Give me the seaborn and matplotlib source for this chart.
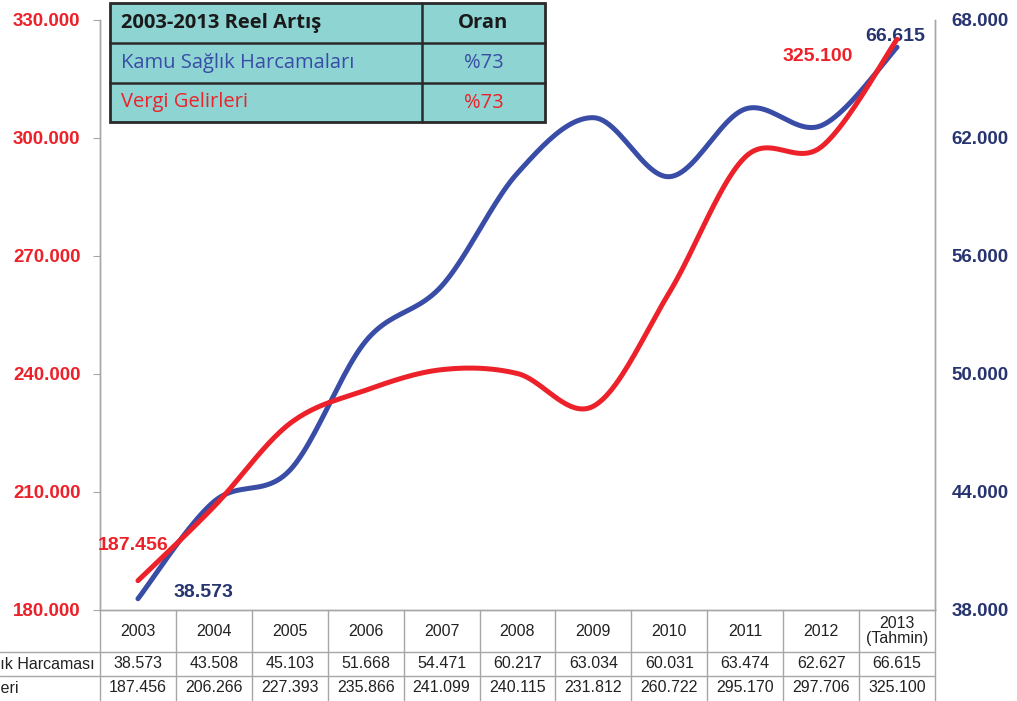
import numpy as np
import pandas as pd
import matplotlib.pyplot as plt
import seaborn as sns
from matplotlib.patches import Rectangle
from matplotlib.lines import Line2D

sns.set_style("white")
plt.rcParams['font.family'] = ['Liberation Sans', 'DejaVu Sans']

# data
years = ["2003", "2004", "2005", "2006", "2007", "2008", "2009", "2010", "2011", "2012", "2013\n(Tahmin)"]
saglik = [38.573, 43.508, 45.103, 51.668, 54.471, 60.217, 63.034, 60.031, 63.474, 62.627, 66.615]
vergi = [187.456, 206.266, 227.393, 235.866, 241.099, 240.115, 231.812, 260.722, 295.170, 297.706, 325.100]
saglik_txt = ["38.573", "43.508", "45.103", "51.668", "54.471", "60.217", "63.034", "60.031", "63.474", "62.627", "66.615"]
vergi_txt = ["187.456", "206.266", "227.393", "235.866", "241.099", "240.115", "231.812", "260.722", "295.170", "297.706", "325.100"]
left_ticks = [180, 210, 240, 270, 300, 330]
right_ticks = [38, 44, 50, 56, 62, 68]

RED = "#EC2129"
BLUE = "#3A4DA6"
NAVY = "#27346F"
GRID = "#A6A6A6"
W, H = 1017, 701


def smooth(y, n=24):
    # Excel-like smoothed line (Catmull-Rom through the points)
    x = np.arange(len(y), dtype=float)
    y = np.asarray(y, dtype=float)
    px = np.concatenate([[x[0]], x, [x[-1]]])
    py = np.concatenate([[y[0]], y, [y[-1]]])
    xs, ys = [], []
    for i in range(1, len(px) - 2):
        p0, p1, p2, p3 = (np.array([px[j], py[j]]) for j in (i - 1, i, i + 1, i + 2))
        c1 = p1 + (p2 - p0) / 6
        c2 = p2 - (p3 - p1) / 6
        t = np.linspace(0, 1, n, endpoint=(i == len(px) - 3))[:, None]
        pts = (1 - t) ** 3 * p1 + 3 * (1 - t) ** 2 * t * c1 + 3 * (1 - t) * t ** 2 * c2 + t ** 3 * p2
        xs.extend(pts[:, 0]); ys.extend(pts[:, 1])
    return pd.DataFrame({"x": xs, "y": ys})


def fx(px):
    return px / W


def fy(py):
    return 1 - py / H


fig = plt.figure(figsize=(W / 100, H / 100), dpi=100)
ax = fig.add_axes([fx(100), fy(610), (935 - 100) / W, (610 - 20) / H])
ax2 = ax.twinx()

s_df = smooth(saglik)
v_df = smooth(vergi)
sns.lineplot(data=s_df, x="x", y="y", ax=ax2, color=BLUE, lw=3.6, sort=False,
             solid_capstyle="round", estimator=None)
sns.lineplot(data=v_df, x="x", y="y", ax=ax, color=RED, lw=3.6, sort=False,
             solid_capstyle="round", estimator=None)
ax.set_zorder(ax2.get_zorder() + 1)
ax.patch.set_visible(False)

ax.set_xlim(-0.5, len(years) - 0.5)
ax.set_ylim(180, 330)
ax2.set_ylim(38, 68)
ax.set_xticks([])
ax2.set_xticks([])
ax.set_xlabel("")
ax.set_ylabel("")
ax2.set_xlabel("")
ax2.set_ylabel("")

ax.set_yticks(left_ticks)
ax.set_yticklabels([f"{v}.000" for v in left_ticks], color=RED, fontsize=13.5, fontweight="bold")
ax.tick_params(axis="y", left=True, length=5, color=GRID, pad=9)
ax2.set_yticks(right_ticks)
ax2.set_yticklabels([f"{v}.000" for v in right_ticks], color=NAVY, fontsize=13.5, fontweight="bold")
ax2.tick_params(axis="y", right=False, length=0, pad=12)

for a in (ax, ax2):
    a.spines["top"].set_visible(False)
    for side in ("left", "right", "bottom"):
        a.spines[side].set_color(GRID)
        a.spines[side].set_linewidth(1)

# point labels
ax.text(-0.07, vergi[0] + 9, vergi_txt[0], color=RED, fontsize=14, fontweight="bold",
        ha="center", va="center")
ax2.text(0.86, saglik[0] + 0.3, saglik_txt[0], color=NAVY, fontsize=14, fontweight="bold",
         ha="center", va="center")
ax.text(8.95, 320.6, vergi_txt[-1], color=RED, fontsize=14, fontweight="bold",
        ha="center", va="center", zorder=1)
ax.text(9.97, 325.7, saglik_txt[-1], color=NAVY, fontsize=14, fontweight="bold",
        ha="center", va="center", zorder=1)

# bottom data table
ah = 590.0
r1, r2, r3 = -42 / ah, -66 / ah, -91 / ah
tr = ax.get_xaxis_transform()
for k in range(len(years) + 1):
    ax.plot([k - 0.5, k - 0.5], [0, r3 - 0.01], color=GRID, lw=1, transform=tr, clip_on=False)
for yy in (r1, r2):
    ax.plot([-0.5, len(years) - 0.5], [yy, yy], color=GRID, lw=1, transform=tr, clip_on=False)
for yy in (652, 676):
    fig.add_artist(Line2D([0, fx(100)], [fy(yy), fy(yy)], color=GRID, lw=1))
for i, yr in enumerate(years):
    ax.text(i, r1 / 2, yr, ha="center", va="center", fontsize=11.5, color="#222222",
            transform=tr, linespacing=1.0)
    ax.text(i, (r1 + r2) / 2, saglik_txt[i], ha="center", va="center", fontsize=11.5,
            color="#222222", transform=tr)
    ax.text(i, (r2 + r3) / 2 + 0.002, vergi_txt[i], ha="center", va="center", fontsize=11.5,
            color="#222222", transform=tr)
fig.text(fx(95), fy(664), "Kamu Sağlık Harcaması", ha="right", va="center", fontsize=11.5,
         color="#222222")
fig.text(fx(18), fy(689), "Vergi Gelirleri", ha="right", va="center", fontsize=11.5,
         color="#222222")

# summary box top-left
TEAL = "#8DD4D3"
bx0, bx1, bxm = 110, 545, 422
rows_y = [3, 43, 83, 122]
fig.add_artist(Rectangle((fx(bx0), fy(rows_y[-1])), fx(bx1 - bx0), (rows_y[-1] - rows_y[0]) / H,
                         facecolor=TEAL, edgecolor="#2a2a2a", lw=2, zorder=5))
for yy in rows_y[1:-1]:
    fig.add_artist(Line2D([fx(bx0), fx(bx1)], [fy(yy), fy(yy)], color="#2a2a2a", lw=1.8, zorder=6))
fig.add_artist(Line2D([fx(bxm), fx(bxm)], [fy(rows_y[0]), fy(rows_y[-1])], color="#2a2a2a", lw=1.8, zorder=6))
box_font = ["Open Sans", "DejaVu Sans"]
cells = [("2003-2013 Reel Artış", "Oran", "#1a1a1a", "bold"),
         ("Kamu Sağlık Harcamaları", "%73", BLUE, "normal"),
         ("Vergi Gelirleri", "%73", RED, "normal")]
for j, (lab, val, col, wt) in enumerate(cells):
    yc = fy((rows_y[j] + rows_y[j + 1]) / 2)
    fig.text(fx(bx0 + 11), yc, lab, ha="left", va="center", fontsize=14.5, color=col,
             fontweight=wt, family=box_font, zorder=7)
    fig.text(fx((bxm + bx1) / 2), yc, val, ha="center", va="center", fontsize=14.5, color=col,
             fontweight=wt, family=box_font, zorder=7)

fig.savefig("out.png", dpi=100)
